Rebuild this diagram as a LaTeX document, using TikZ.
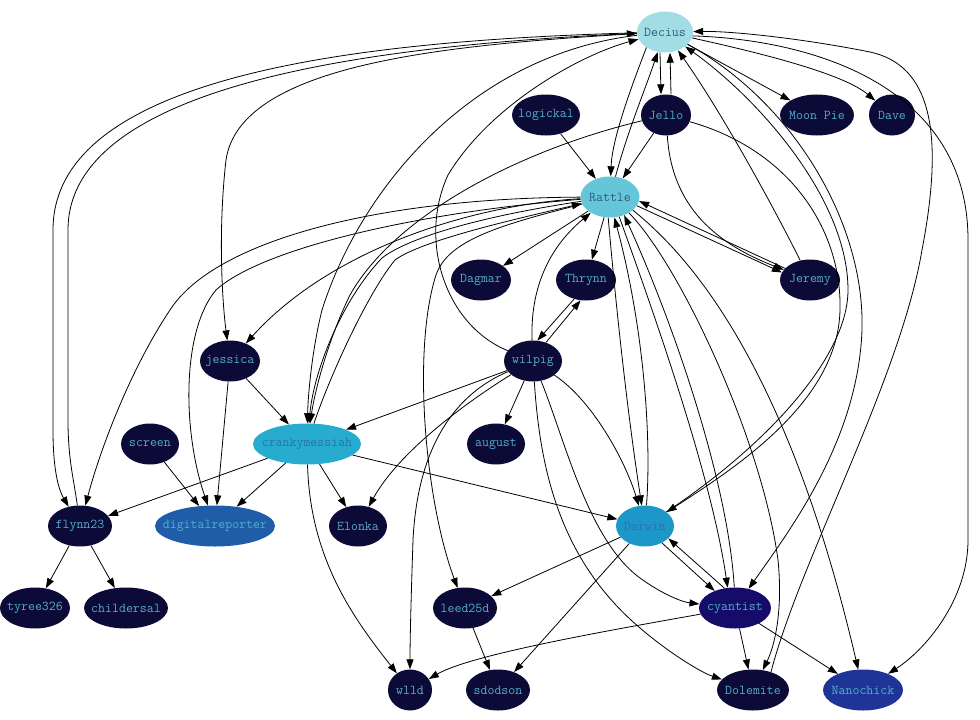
\documentclass[tikz,border=0pt]{standalone}
\usetikzlibrary{arrows.meta,shapes.geometric}
\definecolor{nodedark}{HTML}{0C0A36}
\definecolor{labteal}{HTML}{55AECB}
\definecolor{labslate}{HTML}{2E5C7E}
\definecolor{labblue}{HTML}{2B70B2}
\definecolor{fDecius}{HTML}{A2DCE5}
\definecolor{fRattle}{HTML}{66C6D9}
\definecolor{fcranky}{HTML}{27ACD0}
\definecolor{fDarwin}{HTML}{1D97C7}
\definecolor{fdigital}{HTML}{1F5DA8}
\definecolor{fcyantist}{HTML}{140C68}
\definecolor{fNano}{HTML}{1E3597}

\begin{document}
\begin{tikzpicture}[x=1pt,y=-1pt,
		gv/.style={ellipse,fill=nodedark,text=labteal,minimum height=41pt,inner xsep=-15pt,inner ysep=0pt,font=\fontsize{13.5}{13.5}\ttfamily},
		rel/.style={-{Triangle[length=10pt,width=7pt]},line width=0.8pt}]
		\useasboundingbox (0,0) rectangle (980,720);
		
		\node[gv,fill=fDecius,text=labslate,minimum width=56pt] (Decius) at (665,32) {Decius};
		\node[gv,minimum width=68pt] (logickal) at (546,115) {logickal};
		\node[gv,minimum width=50pt] (Jello) at (666,115) {Jello};
		\node[gv,minimum width=74pt] (MoonPie) at (817,115) {Moon Pie};
		\node[gv,minimum width=46pt] (Dave) at (892,115) {Dave};
		\node[gv,fill=fRattle,text=labslate,minimum width=59pt] (Rattle) at (610,197) {Rattle};
		\node[gv,minimum width=60pt] (Dagmar) at (481,280) {Dagmar};
		\node[gv,minimum width=60pt] (Thrynn) at (586,280) {Thrynn};
		\node[gv,minimum width=60pt] (Jeremy) at (810,280) {Jeremy};
		\node[gv,minimum width=60pt] (jessica) at (230,361) {jessica};
		\node[gv,minimum width=58pt] (wilpig) at (533,361) {wilpig};
		\node[gv,minimum width=58pt] (screen) at (150,444) {screen};
		\node[gv,fill=fcranky,text=labblue,minimum width=108pt] (crankymessiah) at (307,444) {crankymessiah};
		\node[gv,minimum width=58pt] (august) at (496,444) {august};
		\node[gv,minimum width=64pt] (flynn23) at (80,526) {flynn23};
		\node[gv,fill=fdigital,minimum width=120pt] (digitalreporter) at (215,526) {digitalreporter};
		\node[gv,minimum width=58pt] (Elonka) at (358,526) {Elonka};
		\node[gv,fill=fDarwin,text=labblue,minimum width=58pt] (Darwin) at (645,526) {Darwin};
		\node[gv,minimum width=70pt] (tyree326) at (35,608) {tyree326};
		\node[gv,minimum width=84pt] (childersal) at (126,608) {childersal};
		\node[gv,minimum width=64pt] (leed25d) at (465,608) {leed25d};
		\node[gv,fill=fcyantist,minimum width=72pt] (cyantist) at (735,608) {cyantist};
		\node[gv,minimum width=44pt] (wlld) at (410,690) {wlld};
		\node[gv,minimum width=64pt] (sdodson) at (498,690) {sdodson};
		\node[gv,minimum width=72pt] (Dolemite) at (753,690) {Dolemite};
		\node[gv,fill=fNano,minimum width=80pt] (Nanochick) at (863,690) {Nanochick};
		
		% Decius
		\draw[rel] ([xshift=-5pt]Decius.south) -- ([xshift=-5pt]Jello.north);
		\draw[rel] ([xshift=5pt]Jello.north) -- ([xshift=5pt]Decius.south);
		\draw[rel] (Decius) -- (MoonPie);
		\draw[rel] (Decius) .. controls (770,55) and (845,75) .. (Dave);
		\draw[rel] (Decius.-140) .. controls (630,90) and (612,140) .. (Rattle);
		\draw[rel] (Rattle) .. controls (628,130) and (645,90) .. (Decius.-110);
		\draw[rel] (Jeremy) .. controls (770,200) and (720,110) .. (Decius);
		\draw[rel] (Darwin) .. controls (760,450) and (848,360) .. (848,290) .. controls (848,200) and (760,100) .. (Decius);
		\draw[rel] (Decius) .. controls (790,100) and (865,220) .. (862,330) .. controls (858,440) and (790,530) .. (cyantist);
		\draw[rel] (Dolemite.45) .. controls (800,560) and (900,380) .. (922,250) .. controls (945,130) and (930,65) .. (870,52) .. controls (800,38) and (730,31) .. (Decius);
		\draw[rel] (Decius.-8) .. controls (820,40) and (968,90) .. (968,240) -- (968,540) .. controls (968,600) and (925,650) .. (Nanochick);
		\draw[rel] (Decius) .. controls (380,40) and (53,70) .. (53,230) -- (53,430) .. controls (53,475) and (60,492) .. (flynn23);
		\draw[rel] (flynn23) .. controls (74,480) and (68,460) .. (68,420) -- (68,230) .. controls (68,80) and (390,45) .. (Decius);
		\draw[rel] (Decius) .. controls (440,45) and (240,65) .. (226,160) .. controls (218,230) and (222,300) .. (jessica);
		\draw[rel] (Decius) .. controls (470,55) and (360,190) .. (322,310) .. controls (312,350) and (308,395) .. (crankymessiah);
		\draw[rel] (wilpig) .. controls (445,325) and (418,240) .. (448,175) .. controls (490,105) and (580,55) .. (Decius);
		
		% Jello, logickal
		\draw[rel] (Jello) -- (Rattle);
		\draw[rel] (logickal) -- (Rattle);
		\draw[rel] (Jello) .. controls (672,210) and (720,245) .. (Jeremy);
		\draw[rel] (Jello) .. controls (790,150) and (842,230) .. (840,310) .. controls (838,400) and (740,465) .. (Darwin);
		\draw[rel] (Jello) .. controls (520,150) and (395,215) .. (350,295) .. controls (328,340) and (315,390) .. (crankymessiah);
		
		% Rattle
		\draw[rel] (Rattle) -- (Dagmar);
		\draw[rel] (Rattle) -- (Thrynn);
		\draw[rel] (Rattle.-18) -- (Jeremy.165);
		\draw[rel] (Jeremy.155) -- (Rattle.-8);
		\draw[rel] (Rattle) .. controls (470,205) and (330,250) .. (jessica);
		\draw[rel] (Rattle) .. controls (380,198) and (215,240) .. (170,310) .. controls (130,370) and (100,450) .. (flynn23);
		\draw[rel] (Rattle) .. controls (420,212) and (262,248) .. (216,290) .. controls (182,330) and (182,430) .. (digitalreporter);
		\draw[rel] (Rattle) .. controls (470,218) and (405,240) .. (382,258) .. controls (342,300) and (314,370) .. (crankymessiah);
		\draw[rel] (crankymessiah) .. controls (332,370) and (370,290) .. (395,260) .. controls (422,240) and (520,218) .. (Rattle);
		\draw[rel] (Rattle) .. controls (500,225) and (448,240) .. (436,275) .. controls (412,350) and (425,500) .. (leed25d);
		\draw[rel] (Rattle.-95) .. controls (618,330) and (630,430) .. (Darwin);
		\draw[rel] (Darwin) .. controls (652,430) and (642,320) .. (Rattle.-78);
		\draw[rel] (Rattle.-65) .. controls (660,330) and (712,480) .. (cyantist.110);
		\draw[rel] (cyantist.92) .. controls (728,480) and (672,320) .. (Rattle.-52);
		\draw[rel] (Rattle.-40) .. controls (680,265) and (762,440) .. (778,560) .. controls (783,610) and (775,645) .. (Dolemite);
		\draw[rel] (Rattle.-30) .. controls (720,280) and (800,420) .. (Nanochick);
		
		% wilpig
		\draw[rel] (wilpig) .. controls (530,290) and (548,248) .. (Rattle);
		\draw[rel] (wilpig.55) -- (Thrynn.-105);
		\draw[rel] (Thrynn.-122) -- (wilpig.78);
		\draw[rel] (wilpig) -- (crankymessiah);
		\draw[rel] (wilpig) .. controls (470,400) and (400,450) .. (Elonka);
		\draw[rel] (wilpig) .. controls (460,392) and (418,440) .. (413,540) .. controls (411,600) and (410,640) .. (wlld);
		\draw[rel] (wilpig) -- (august);
		\draw[rel] (wilpig) .. controls (592,400) and (625,460) .. (Darwin);
		\draw[rel] (wilpig) .. controls (565,440) and (588,540) .. (640,578) .. controls (662,594) and (682,602) .. (cyantist);
		\draw[rel] (wilpig) .. controls (540,470) and (560,560) .. (640,628) .. controls (668,652) and (700,672) .. (Dolemite);
		
		% left side
		\draw[rel] (jessica) -- (crankymessiah);
		\draw[rel] (jessica) -- (digitalreporter);
		\draw[rel] (screen) -- (digitalreporter);
		\draw[rel] (crankymessiah) -- (flynn23);
		\draw[rel] (crankymessiah) -- (digitalreporter);
		\draw[rel] (crankymessiah) -- (Elonka);
		\draw[rel] (crankymessiah) -- (Darwin);
		\draw[rel] (crankymessiah) .. controls (310,560) and (355,620) .. (wlld);
		\draw[rel] (flynn23) -- (tyree326);
		\draw[rel] (flynn23) -- (childersal);
		
		% Darwin, cyantist
		\draw[rel] (Darwin.-45) -- (cyantist.140);
		\draw[rel] (cyantist.118) -- (Darwin.-28);
		\draw[rel] (Darwin) -- (leed25d);
		\draw[rel] (Darwin) -- (sdodson);
		\draw[rel] (leed25d) -- (sdodson);
		\draw[rel] (cyantist) .. controls (600,632) and (470,655) .. (wlld);
		\draw[rel] (cyantist) -- (Dolemite);
		\draw[rel] (cyantist) -- (Nanochick);
	\end{tikzpicture}
\end{document}
